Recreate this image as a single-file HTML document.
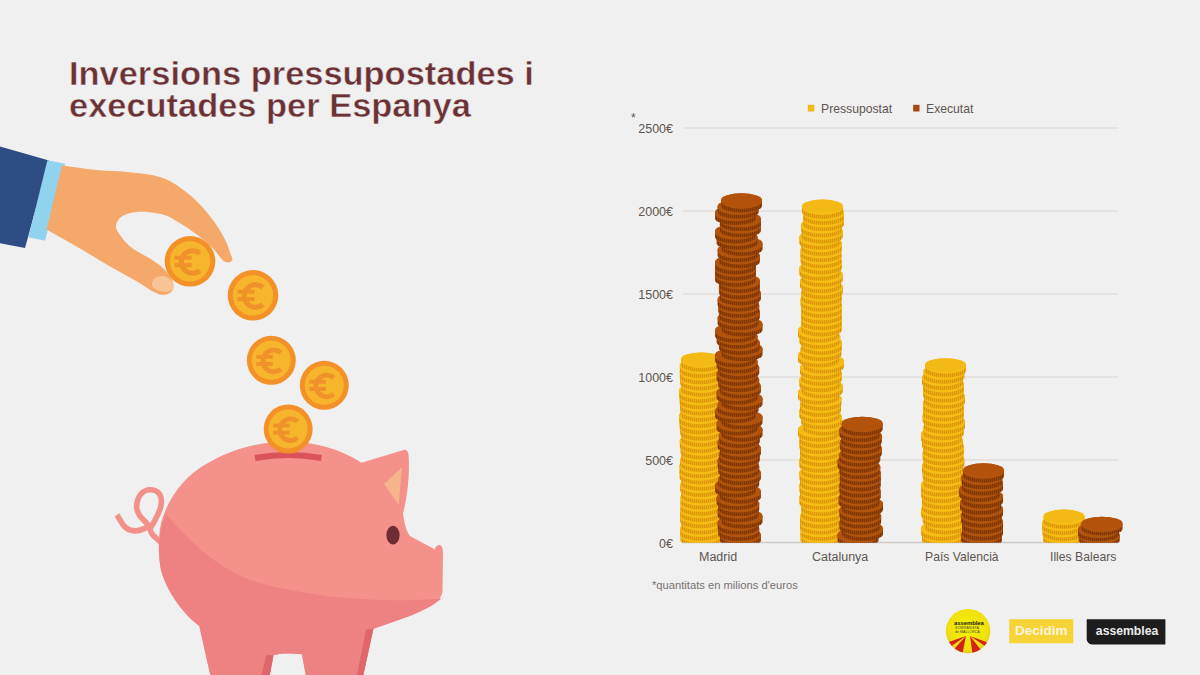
<!DOCTYPE html>
<html><head><meta charset="utf-8">
<style>
html,body{margin:0;padding:0;}
body{width:1200px;height:675px;overflow:hidden;background:#f0f0f0;position:relative;font-family:"Liberation Sans",sans-serif;}
.t{position:absolute;white-space:nowrap;}
.title{left:69px;transform:scaleX(1.043);transform-origin:0 0;-webkit-text-stroke:0.45px #f0f0f0;color:#6b3135;font-weight:bold;font-size:33px;line-height:30.5px;}
.lab{color:#5e5651;font-size:12px;line-height:14px;}
svg{position:absolute;left:0;top:0;}
</style></head><body>
<svg width="1200" height="675" viewBox="0 0 1200 675">
<defs>
<clipPath id="stk"><rect x="600" y="0" width="600" height="542.8"/></clipPath>
<pattern id="ry" width="2" height="10" patternUnits="userSpaceOnUse">
<rect width="2" height="10" fill="#edad0f"/><rect width="1" height="10" fill="#d99409"/>
</pattern>
<pattern id="rb" width="2" height="10" patternUnits="userSpaceOnUse">
<rect width="2" height="10" fill="#9a4508"/><rect width="1" height="10" fill="#7e3505"/>
</pattern>
</defs>
<!-- grid -->
<g stroke="#d9d6d3" stroke-width="1">
<line x1="683" y1="128" x2="1118" y2="128"/>
<line x1="683" y1="211" x2="1118" y2="211"/>
<line x1="683" y1="294" x2="1118" y2="294"/>
<line x1="683" y1="377" x2="1118" y2="377"/>
<line x1="683" y1="460" x2="1118" y2="460"/>
</g>
<line x1="683" y1="542.5" x2="1118" y2="542.5" stroke="#cdcac7" stroke-width="1.6"/>
<g clip-path="url(#stk)">
<path d="M680.50,534.24 L680.50,540.50 A20.50,6.50 0 0 0 721.50,540.50 L721.50,534.24 Z" fill="url(#ry)"/>
<ellipse cx="701.00" cy="535.54" rx="20.50" ry="7.80" fill="#f6bd15"/>
<ellipse cx="701.00" cy="534.24" rx="20.50" ry="6.50" fill="#f3b914"/>
<path d="M680.20,527.98 L680.20,534.24 A20.50,6.50 0 0 0 721.20,534.24 L721.20,527.98 Z" fill="url(#ry)"/>
<ellipse cx="700.70" cy="529.28" rx="20.50" ry="7.80" fill="#f6bd15"/>
<ellipse cx="700.70" cy="527.98" rx="20.50" ry="6.50" fill="#f3b914"/>
<path d="M681.00,521.71 L681.00,527.98 A20.50,6.50 0 0 0 722.00,527.98 L722.00,521.71 Z" fill="url(#ry)"/>
<ellipse cx="701.50" cy="523.01" rx="20.50" ry="7.80" fill="#f6bd15"/>
<ellipse cx="701.50" cy="521.71" rx="20.50" ry="6.50" fill="#f3b914"/>
<path d="M680.20,515.45 L680.20,521.71 A20.50,6.50 0 0 0 721.20,521.71 L721.20,515.45 Z" fill="url(#ry)"/>
<ellipse cx="700.70" cy="516.75" rx="20.50" ry="7.80" fill="#f6bd15"/>
<ellipse cx="700.70" cy="515.45" rx="20.50" ry="6.50" fill="#f3b914"/>
<path d="M680.20,509.19 L680.20,515.45 A20.50,6.50 0 0 0 721.20,515.45 L721.20,509.19 Z" fill="url(#ry)"/>
<ellipse cx="700.70" cy="510.49" rx="20.50" ry="7.80" fill="#f6bd15"/>
<ellipse cx="700.70" cy="509.19" rx="20.50" ry="6.50" fill="#f3b914"/>
<path d="M680.50,502.93 L680.50,509.19 A20.50,6.50 0 0 0 721.50,509.19 L721.50,502.93 Z" fill="url(#ry)"/>
<ellipse cx="701.00" cy="504.23" rx="20.50" ry="7.80" fill="#f6bd15"/>
<ellipse cx="701.00" cy="502.93" rx="20.50" ry="6.50" fill="#f3b914"/>
<path d="M680.50,496.67 L680.50,502.93 A20.50,6.50 0 0 0 721.50,502.93 L721.50,496.67 Z" fill="url(#ry)"/>
<ellipse cx="701.00" cy="497.97" rx="20.50" ry="7.80" fill="#f6bd15"/>
<ellipse cx="701.00" cy="496.67" rx="20.50" ry="6.50" fill="#f3b914"/>
<path d="M681.00,490.40 L681.00,496.67 A20.50,6.50 0 0 0 722.00,496.67 L722.00,490.40 Z" fill="url(#ry)"/>
<ellipse cx="701.50" cy="491.70" rx="20.50" ry="7.80" fill="#f6bd15"/>
<ellipse cx="701.50" cy="490.40" rx="20.50" ry="6.50" fill="#f3b914"/>
<path d="M680.20,484.14 L680.20,490.40 A20.50,6.50 0 0 0 721.20,490.40 L721.20,484.14 Z" fill="url(#ry)"/>
<ellipse cx="700.70" cy="485.44" rx="20.50" ry="7.80" fill="#f6bd15"/>
<ellipse cx="700.70" cy="484.14" rx="20.50" ry="6.50" fill="#f3b914"/>
<path d="M681.00,477.88 L681.00,484.14 A20.50,6.50 0 0 0 722.00,484.14 L722.00,477.88 Z" fill="url(#ry)"/>
<ellipse cx="701.50" cy="479.18" rx="20.50" ry="7.80" fill="#f6bd15"/>
<ellipse cx="701.50" cy="477.88" rx="20.50" ry="6.50" fill="#f3b914"/>
<path d="M679.50,471.62 L679.50,477.88 A20.50,6.50 0 0 0 720.50,477.88 L720.50,471.62 Z" fill="url(#ry)"/>
<ellipse cx="700.00" cy="472.92" rx="20.50" ry="7.80" fill="#f6bd15"/>
<ellipse cx="700.00" cy="471.62" rx="20.50" ry="6.50" fill="#f3b914"/>
<path d="M679.50,465.36 L679.50,471.62 A20.50,6.50 0 0 0 720.50,471.62 L720.50,465.36 Z" fill="url(#ry)"/>
<ellipse cx="700.00" cy="466.66" rx="20.50" ry="7.80" fill="#f6bd15"/>
<ellipse cx="700.00" cy="465.36" rx="20.50" ry="6.50" fill="#f3b914"/>
<path d="M680.20,459.09 L680.20,465.36 A20.50,6.50 0 0 0 721.20,465.36 L721.20,459.09 Z" fill="url(#ry)"/>
<ellipse cx="700.70" cy="460.39" rx="20.50" ry="7.80" fill="#f6bd15"/>
<ellipse cx="700.70" cy="459.09" rx="20.50" ry="6.50" fill="#f3b914"/>
<path d="M681.00,452.83 L681.00,459.09 A20.50,6.50 0 0 0 722.00,459.09 L722.00,452.83 Z" fill="url(#ry)"/>
<ellipse cx="701.50" cy="454.13" rx="20.50" ry="7.80" fill="#f6bd15"/>
<ellipse cx="701.50" cy="452.83" rx="20.50" ry="6.50" fill="#f3b914"/>
<path d="M680.50,446.57 L680.50,452.83 A20.50,6.50 0 0 0 721.50,452.83 L721.50,446.57 Z" fill="url(#ry)"/>
<ellipse cx="701.00" cy="447.87" rx="20.50" ry="7.80" fill="#f6bd15"/>
<ellipse cx="701.00" cy="446.57" rx="20.50" ry="6.50" fill="#f3b914"/>
<path d="M679.80,440.31 L679.80,446.57 A20.50,6.50 0 0 0 720.80,446.57 L720.80,440.31 Z" fill="url(#ry)"/>
<ellipse cx="700.30" cy="441.61" rx="20.50" ry="7.80" fill="#f6bd15"/>
<ellipse cx="700.30" cy="440.31" rx="20.50" ry="6.50" fill="#f3b914"/>
<path d="M681.00,434.04 L681.00,440.31 A20.50,6.50 0 0 0 722.00,440.31 L722.00,434.04 Z" fill="url(#ry)"/>
<ellipse cx="701.50" cy="435.34" rx="20.50" ry="7.80" fill="#f6bd15"/>
<ellipse cx="701.50" cy="434.04" rx="20.50" ry="6.50" fill="#f3b914"/>
<path d="M680.20,427.78 L680.20,434.04 A20.50,6.50 0 0 0 721.20,434.04 L721.20,427.78 Z" fill="url(#ry)"/>
<ellipse cx="700.70" cy="429.08" rx="20.50" ry="7.80" fill="#f6bd15"/>
<ellipse cx="700.70" cy="427.78" rx="20.50" ry="6.50" fill="#f3b914"/>
<path d="M679.50,421.52 L679.50,427.78 A20.50,6.50 0 0 0 720.50,427.78 L720.50,421.52 Z" fill="url(#ry)"/>
<ellipse cx="700.00" cy="422.82" rx="20.50" ry="7.80" fill="#f6bd15"/>
<ellipse cx="700.00" cy="421.52" rx="20.50" ry="6.50" fill="#f3b914"/>
<path d="M679.00,415.26 L679.00,421.52 A20.50,6.50 0 0 0 720.00,421.52 L720.00,415.26 Z" fill="url(#ry)"/>
<ellipse cx="699.50" cy="416.56" rx="20.50" ry="7.80" fill="#f6bd15"/>
<ellipse cx="699.50" cy="415.26" rx="20.50" ry="6.50" fill="#f3b914"/>
<path d="M680.50,409.00 L680.50,415.26 A20.50,6.50 0 0 0 721.50,415.26 L721.50,409.00 Z" fill="url(#ry)"/>
<ellipse cx="701.00" cy="410.30" rx="20.50" ry="7.80" fill="#f6bd15"/>
<ellipse cx="701.00" cy="409.00" rx="20.50" ry="6.50" fill="#f3b914"/>
<path d="M680.00,402.73 L680.00,409.00 A20.50,6.50 0 0 0 721.00,409.00 L721.00,402.73 Z" fill="url(#ry)"/>
<ellipse cx="700.50" cy="404.03" rx="20.50" ry="7.80" fill="#f6bd15"/>
<ellipse cx="700.50" cy="402.73" rx="20.50" ry="6.50" fill="#f3b914"/>
<path d="M679.50,396.47 L679.50,402.73 A20.50,6.50 0 0 0 720.50,402.73 L720.50,396.47 Z" fill="url(#ry)"/>
<ellipse cx="700.00" cy="397.77" rx="20.50" ry="7.80" fill="#f6bd15"/>
<ellipse cx="700.00" cy="396.47" rx="20.50" ry="6.50" fill="#f3b914"/>
<path d="M679.00,390.21 L679.00,396.47 A20.50,6.50 0 0 0 720.00,396.47 L720.00,390.21 Z" fill="url(#ry)"/>
<ellipse cx="699.50" cy="391.51" rx="20.50" ry="7.80" fill="#f6bd15"/>
<ellipse cx="699.50" cy="390.21" rx="20.50" ry="6.50" fill="#f3b914"/>
<path d="M681.00,383.95 L681.00,390.21 A20.50,6.50 0 0 0 722.00,390.21 L722.00,383.95 Z" fill="url(#ry)"/>
<ellipse cx="701.50" cy="385.25" rx="20.50" ry="7.80" fill="#f6bd15"/>
<ellipse cx="701.50" cy="383.95" rx="20.50" ry="6.50" fill="#f3b914"/>
<path d="M680.20,377.69 L680.20,383.95 A20.50,6.50 0 0 0 721.20,383.95 L721.20,377.69 Z" fill="url(#ry)"/>
<ellipse cx="700.70" cy="378.99" rx="20.50" ry="7.80" fill="#f6bd15"/>
<ellipse cx="700.70" cy="377.69" rx="20.50" ry="6.50" fill="#f3b914"/>
<path d="M679.80,371.42 L679.80,377.69 A20.50,6.50 0 0 0 720.80,377.69 L720.80,371.42 Z" fill="url(#ry)"/>
<ellipse cx="700.30" cy="372.72" rx="20.50" ry="7.80" fill="#f6bd15"/>
<ellipse cx="700.30" cy="371.42" rx="20.50" ry="6.50" fill="#f3b914"/>
<path d="M679.80,365.16 L679.80,371.42 A20.50,6.50 0 0 0 720.80,371.42 L720.80,365.16 Z" fill="url(#ry)"/>
<ellipse cx="700.30" cy="366.46" rx="20.50" ry="7.80" fill="#f6bd15"/>
<ellipse cx="700.30" cy="365.16" rx="20.50" ry="6.50" fill="#f3b914"/>
<path d="M681.00,358.90 L681.00,365.16 A20.50,6.50 0 0 0 722.00,365.16 L722.00,358.90 Z" fill="url(#ry)"/>
<ellipse cx="701.50" cy="360.20" rx="20.50" ry="7.80" fill="#f6bd15"/>
<ellipse cx="701.50" cy="358.90" rx="20.50" ry="6.50" fill="#f3b914"/>
<path d="M719.88,534.31 L719.88,540.50 A20.50,6.50 0 0 0 760.88,540.50 L760.88,534.31 Z" fill="url(#rb)"/>
<ellipse cx="740.38" cy="535.61" rx="20.50" ry="7.80" fill="#b2550c"/>
<ellipse cx="740.38" cy="534.31" rx="20.50" ry="6.50" fill="#b3530b"/>
<path d="M718.25,528.11 L718.25,534.31 A20.50,6.50 0 0 0 759.25,534.31 L759.25,528.11 Z" fill="url(#rb)"/>
<ellipse cx="738.75" cy="529.41" rx="20.50" ry="7.80" fill="#b2550c"/>
<ellipse cx="738.75" cy="528.11" rx="20.50" ry="6.50" fill="#b3530b"/>
<path d="M717.60,521.92 L717.60,528.11 A20.50,6.50 0 0 0 758.60,528.11 L758.60,521.92 Z" fill="url(#rb)"/>
<ellipse cx="738.10" cy="523.22" rx="20.50" ry="7.80" fill="#b2550c"/>
<ellipse cx="738.10" cy="521.92" rx="20.50" ry="6.50" fill="#b3530b"/>
<path d="M721.50,515.72 L721.50,521.92 A20.50,6.50 0 0 0 762.50,521.92 L762.50,515.72 Z" fill="url(#rb)"/>
<ellipse cx="742.00" cy="517.02" rx="20.50" ry="7.80" fill="#b2550c"/>
<ellipse cx="742.00" cy="515.72" rx="20.50" ry="6.50" fill="#b3530b"/>
<path d="M717.60,509.53 L717.60,515.72 A20.50,6.50 0 0 0 758.60,515.72 L758.60,509.53 Z" fill="url(#rb)"/>
<ellipse cx="738.10" cy="510.83" rx="20.50" ry="7.80" fill="#b2550c"/>
<ellipse cx="738.10" cy="509.53" rx="20.50" ry="6.50" fill="#b3530b"/>
<path d="M718.25,503.33 L718.25,509.53 A20.50,6.50 0 0 0 759.25,509.53 L759.25,503.33 Z" fill="url(#rb)"/>
<ellipse cx="738.75" cy="504.63" rx="20.50" ry="7.80" fill="#b2550c"/>
<ellipse cx="738.75" cy="503.33" rx="20.50" ry="6.50" fill="#b3530b"/>
<path d="M716.62,497.14 L716.62,503.33 A20.50,6.50 0 0 0 757.62,503.33 L757.62,497.14 Z" fill="url(#rb)"/>
<ellipse cx="737.12" cy="498.44" rx="20.50" ry="7.80" fill="#b2550c"/>
<ellipse cx="737.12" cy="497.14" rx="20.50" ry="6.50" fill="#b3530b"/>
<path d="M719.88,490.94 L719.88,497.14 A20.50,6.50 0 0 0 760.88,497.14 L760.88,490.94 Z" fill="url(#rb)"/>
<ellipse cx="740.38" cy="492.24" rx="20.50" ry="7.80" fill="#b2550c"/>
<ellipse cx="740.38" cy="490.94" rx="20.50" ry="6.50" fill="#b3530b"/>
<path d="M715.00,484.75 L715.00,490.94 A20.50,6.50 0 0 0 756.00,490.94 L756.00,484.75 Z" fill="url(#rb)"/>
<ellipse cx="735.50" cy="486.05" rx="20.50" ry="7.80" fill="#b2550c"/>
<ellipse cx="735.50" cy="484.75" rx="20.50" ry="6.50" fill="#b3530b"/>
<path d="M718.25,478.55 L718.25,484.75 A20.50,6.50 0 0 0 759.25,484.75 L759.25,478.55 Z" fill="url(#rb)"/>
<ellipse cx="738.75" cy="479.85" rx="20.50" ry="7.80" fill="#b2550c"/>
<ellipse cx="738.75" cy="478.55" rx="20.50" ry="6.50" fill="#b3530b"/>
<path d="M719.88,472.36 L719.88,478.55 A20.50,6.50 0 0 0 760.88,478.55 L760.88,472.36 Z" fill="url(#rb)"/>
<ellipse cx="740.38" cy="473.66" rx="20.50" ry="7.80" fill="#b2550c"/>
<ellipse cx="740.38" cy="472.36" rx="20.50" ry="6.50" fill="#b3530b"/>
<path d="M718.25,466.17 L718.25,472.36 A20.50,6.50 0 0 0 759.25,472.36 L759.25,466.17 Z" fill="url(#rb)"/>
<ellipse cx="738.75" cy="467.47" rx="20.50" ry="7.80" fill="#b2550c"/>
<ellipse cx="738.75" cy="466.17" rx="20.50" ry="6.50" fill="#b3530b"/>
<path d="M717.60,459.97 L717.60,466.17 A20.50,6.50 0 0 0 758.60,466.17 L758.60,459.97 Z" fill="url(#rb)"/>
<ellipse cx="738.10" cy="461.27" rx="20.50" ry="7.80" fill="#b2550c"/>
<ellipse cx="738.10" cy="459.97" rx="20.50" ry="6.50" fill="#b3530b"/>
<path d="M718.90,453.78 L718.90,459.97 A20.50,6.50 0 0 0 759.90,459.97 L759.90,453.78 Z" fill="url(#rb)"/>
<ellipse cx="739.40" cy="455.08" rx="20.50" ry="7.80" fill="#b2550c"/>
<ellipse cx="739.40" cy="453.78" rx="20.50" ry="6.50" fill="#b3530b"/>
<path d="M719.88,447.58 L719.88,453.78 A20.50,6.50 0 0 0 760.88,453.78 L760.88,447.58 Z" fill="url(#rb)"/>
<ellipse cx="740.38" cy="448.88" rx="20.50" ry="7.80" fill="#b2550c"/>
<ellipse cx="740.38" cy="447.58" rx="20.50" ry="6.50" fill="#b3530b"/>
<path d="M717.60,441.39 L717.60,447.58 A20.50,6.50 0 0 0 758.60,447.58 L758.60,441.39 Z" fill="url(#rb)"/>
<ellipse cx="738.10" cy="442.69" rx="20.50" ry="7.80" fill="#b2550c"/>
<ellipse cx="738.10" cy="441.39" rx="20.50" ry="6.50" fill="#b3530b"/>
<path d="M718.90,435.19 L718.90,441.39 A20.50,6.50 0 0 0 759.90,441.39 L759.90,435.19 Z" fill="url(#rb)"/>
<ellipse cx="739.40" cy="436.49" rx="20.50" ry="7.80" fill="#b2550c"/>
<ellipse cx="739.40" cy="435.19" rx="20.50" ry="6.50" fill="#b3530b"/>
<path d="M721.50,429.00 L721.50,435.19 A20.50,6.50 0 0 0 762.50,435.19 L762.50,429.00 Z" fill="url(#rb)"/>
<ellipse cx="742.00" cy="430.30" rx="20.50" ry="7.80" fill="#b2550c"/>
<ellipse cx="742.00" cy="429.00" rx="20.50" ry="6.50" fill="#b3530b"/>
<path d="M716.62,422.80 L716.62,429.00 A20.50,6.50 0 0 0 757.62,429.00 L757.62,422.80 Z" fill="url(#rb)"/>
<ellipse cx="737.12" cy="424.10" rx="20.50" ry="7.80" fill="#b2550c"/>
<ellipse cx="737.12" cy="422.80" rx="20.50" ry="6.50" fill="#b3530b"/>
<path d="M721.50,416.61 L721.50,422.80 A20.50,6.50 0 0 0 762.50,422.80 L762.50,416.61 Z" fill="url(#rb)"/>
<ellipse cx="742.00" cy="417.91" rx="20.50" ry="7.80" fill="#b2550c"/>
<ellipse cx="742.00" cy="416.61" rx="20.50" ry="6.50" fill="#b3530b"/>
<path d="M715.00,410.41 L715.00,416.61 A20.50,6.50 0 0 0 756.00,416.61 L756.00,410.41 Z" fill="url(#rb)"/>
<ellipse cx="735.50" cy="411.71" rx="20.50" ry="7.80" fill="#b2550c"/>
<ellipse cx="735.50" cy="410.41" rx="20.50" ry="6.50" fill="#b3530b"/>
<path d="M717.60,404.22 L717.60,410.41 A20.50,6.50 0 0 0 758.60,410.41 L758.60,404.22 Z" fill="url(#rb)"/>
<ellipse cx="738.10" cy="405.52" rx="20.50" ry="7.80" fill="#b2550c"/>
<ellipse cx="738.10" cy="404.22" rx="20.50" ry="6.50" fill="#b3530b"/>
<path d="M721.50,398.03 L721.50,404.22 A20.50,6.50 0 0 0 762.50,404.22 L762.50,398.03 Z" fill="url(#rb)"/>
<ellipse cx="742.00" cy="399.33" rx="20.50" ry="7.80" fill="#b2550c"/>
<ellipse cx="742.00" cy="398.03" rx="20.50" ry="6.50" fill="#b3530b"/>
<path d="M716.62,391.83 L716.62,398.03 A20.50,6.50 0 0 0 757.62,398.03 L757.62,391.83 Z" fill="url(#rb)"/>
<ellipse cx="737.12" cy="393.13" rx="20.50" ry="7.80" fill="#b2550c"/>
<ellipse cx="737.12" cy="391.83" rx="20.50" ry="6.50" fill="#b3530b"/>
<path d="M719.88,385.64 L719.88,391.83 A20.50,6.50 0 0 0 760.88,391.83 L760.88,385.64 Z" fill="url(#rb)"/>
<ellipse cx="740.38" cy="386.94" rx="20.50" ry="7.80" fill="#b2550c"/>
<ellipse cx="740.38" cy="385.64" rx="20.50" ry="6.50" fill="#b3530b"/>
<path d="M718.25,379.44 L718.25,385.64 A20.50,6.50 0 0 0 759.25,385.64 L759.25,379.44 Z" fill="url(#rb)"/>
<ellipse cx="738.75" cy="380.74" rx="20.50" ry="7.80" fill="#b2550c"/>
<ellipse cx="738.75" cy="379.44" rx="20.50" ry="6.50" fill="#b3530b"/>
<path d="M716.62,373.25 L716.62,379.44 A20.50,6.50 0 0 0 757.62,379.44 L757.62,373.25 Z" fill="url(#rb)"/>
<ellipse cx="737.12" cy="374.55" rx="20.50" ry="7.80" fill="#b2550c"/>
<ellipse cx="737.12" cy="373.25" rx="20.50" ry="6.50" fill="#b3530b"/>
<path d="M718.25,367.05 L718.25,373.25 A20.50,6.50 0 0 0 759.25,373.25 L759.25,367.05 Z" fill="url(#rb)"/>
<ellipse cx="738.75" cy="368.35" rx="20.50" ry="7.80" fill="#b2550c"/>
<ellipse cx="738.75" cy="367.05" rx="20.50" ry="6.50" fill="#b3530b"/>
<path d="M716.62,360.86 L716.62,367.05 A20.50,6.50 0 0 0 757.62,367.05 L757.62,360.86 Z" fill="url(#rb)"/>
<ellipse cx="737.12" cy="362.16" rx="20.50" ry="7.80" fill="#b2550c"/>
<ellipse cx="737.12" cy="360.86" rx="20.50" ry="6.50" fill="#b3530b"/>
<path d="M715.00,354.66 L715.00,360.86 A20.50,6.50 0 0 0 756.00,360.86 L756.00,354.66 Z" fill="url(#rb)"/>
<ellipse cx="735.50" cy="355.96" rx="20.50" ry="7.80" fill="#b2550c"/>
<ellipse cx="735.50" cy="354.66" rx="20.50" ry="6.50" fill="#b3530b"/>
<path d="M721.50,348.47 L721.50,354.66 A20.50,6.50 0 0 0 762.50,354.66 L762.50,348.47 Z" fill="url(#rb)"/>
<ellipse cx="742.00" cy="349.77" rx="20.50" ry="7.80" fill="#b2550c"/>
<ellipse cx="742.00" cy="348.47" rx="20.50" ry="6.50" fill="#b3530b"/>
<path d="M718.90,342.27 L718.90,348.47 A20.50,6.50 0 0 0 759.90,348.47 L759.90,342.27 Z" fill="url(#rb)"/>
<ellipse cx="739.40" cy="343.57" rx="20.50" ry="7.80" fill="#b2550c"/>
<ellipse cx="739.40" cy="342.27" rx="20.50" ry="6.50" fill="#b3530b"/>
<path d="M716.62,336.08 L716.62,342.27 A20.50,6.50 0 0 0 757.62,342.27 L757.62,336.08 Z" fill="url(#rb)"/>
<ellipse cx="737.12" cy="337.38" rx="20.50" ry="7.80" fill="#b2550c"/>
<ellipse cx="737.12" cy="336.08" rx="20.50" ry="6.50" fill="#b3530b"/>
<path d="M715.00,329.89 L715.00,336.08 A20.50,6.50 0 0 0 756.00,336.08 L756.00,329.89 Z" fill="url(#rb)"/>
<ellipse cx="735.50" cy="331.19" rx="20.50" ry="7.80" fill="#b2550c"/>
<ellipse cx="735.50" cy="329.89" rx="20.50" ry="6.50" fill="#b3530b"/>
<path d="M721.50,323.69 L721.50,329.89 A20.50,6.50 0 0 0 762.50,329.89 L762.50,323.69 Z" fill="url(#rb)"/>
<ellipse cx="742.00" cy="324.99" rx="20.50" ry="7.80" fill="#b2550c"/>
<ellipse cx="742.00" cy="323.69" rx="20.50" ry="6.50" fill="#b3530b"/>
<path d="M717.60,317.50 L717.60,323.69 A20.50,6.50 0 0 0 758.60,323.69 L758.60,317.50 Z" fill="url(#rb)"/>
<ellipse cx="738.10" cy="318.80" rx="20.50" ry="7.80" fill="#b2550c"/>
<ellipse cx="738.10" cy="317.50" rx="20.50" ry="6.50" fill="#b3530b"/>
<path d="M718.90,311.30 L718.90,317.50 A20.50,6.50 0 0 0 759.90,317.50 L759.90,311.30 Z" fill="url(#rb)"/>
<ellipse cx="739.40" cy="312.60" rx="20.50" ry="7.80" fill="#b2550c"/>
<ellipse cx="739.40" cy="311.30" rx="20.50" ry="6.50" fill="#b3530b"/>
<path d="M718.25,305.11 L718.25,311.30 A20.50,6.50 0 0 0 759.25,311.30 L759.25,305.11 Z" fill="url(#rb)"/>
<ellipse cx="738.75" cy="306.41" rx="20.50" ry="7.80" fill="#b2550c"/>
<ellipse cx="738.75" cy="305.11" rx="20.50" ry="6.50" fill="#b3530b"/>
<path d="M717.60,298.91 L717.60,305.11 A20.50,6.50 0 0 0 758.60,305.11 L758.60,298.91 Z" fill="url(#rb)"/>
<ellipse cx="738.10" cy="300.21" rx="20.50" ry="7.80" fill="#b2550c"/>
<ellipse cx="738.10" cy="298.91" rx="20.50" ry="6.50" fill="#b3530b"/>
<path d="M719.88,292.72 L719.88,298.91 A20.50,6.50 0 0 0 760.88,298.91 L760.88,292.72 Z" fill="url(#rb)"/>
<ellipse cx="740.38" cy="294.02" rx="20.50" ry="7.80" fill="#b2550c"/>
<ellipse cx="740.38" cy="292.72" rx="20.50" ry="6.50" fill="#b3530b"/>
<path d="M718.90,286.52 L718.90,292.72 A20.50,6.50 0 0 0 759.90,292.72 L759.90,286.52 Z" fill="url(#rb)"/>
<ellipse cx="739.40" cy="287.82" rx="20.50" ry="7.80" fill="#b2550c"/>
<ellipse cx="739.40" cy="286.52" rx="20.50" ry="6.50" fill="#b3530b"/>
<path d="M718.90,280.33 L718.90,286.52 A20.50,6.50 0 0 0 759.90,286.52 L759.90,280.33 Z" fill="url(#rb)"/>
<ellipse cx="739.40" cy="281.63" rx="20.50" ry="7.80" fill="#b2550c"/>
<ellipse cx="739.40" cy="280.33" rx="20.50" ry="6.50" fill="#b3530b"/>
<path d="M715.00,274.13 L715.00,280.33 A20.50,6.50 0 0 0 756.00,280.33 L756.00,274.13 Z" fill="url(#rb)"/>
<ellipse cx="735.50" cy="275.43" rx="20.50" ry="7.80" fill="#b2550c"/>
<ellipse cx="735.50" cy="274.13" rx="20.50" ry="6.50" fill="#b3530b"/>
<path d="M715.00,267.94 L715.00,274.13 A20.50,6.50 0 0 0 756.00,274.13 L756.00,267.94 Z" fill="url(#rb)"/>
<ellipse cx="735.50" cy="269.24" rx="20.50" ry="7.80" fill="#b2550c"/>
<ellipse cx="735.50" cy="267.94" rx="20.50" ry="6.50" fill="#b3530b"/>
<path d="M715.00,261.75 L715.00,267.94 A20.50,6.50 0 0 0 756.00,267.94 L756.00,261.75 Z" fill="url(#rb)"/>
<ellipse cx="735.50" cy="263.05" rx="20.50" ry="7.80" fill="#b2550c"/>
<ellipse cx="735.50" cy="261.75" rx="20.50" ry="6.50" fill="#b3530b"/>
<path d="M718.90,255.55 L718.90,261.75 A20.50,6.50 0 0 0 759.90,261.75 L759.90,255.55 Z" fill="url(#rb)"/>
<ellipse cx="739.40" cy="256.85" rx="20.50" ry="7.80" fill="#b2550c"/>
<ellipse cx="739.40" cy="255.55" rx="20.50" ry="6.50" fill="#b3530b"/>
<path d="M717.60,249.36 L717.60,255.55 A20.50,6.50 0 0 0 758.60,255.55 L758.60,249.36 Z" fill="url(#rb)"/>
<ellipse cx="738.10" cy="250.66" rx="20.50" ry="7.80" fill="#b2550c"/>
<ellipse cx="738.10" cy="249.36" rx="20.50" ry="6.50" fill="#b3530b"/>
<path d="M721.50,243.16 L721.50,249.36 A20.50,6.50 0 0 0 762.50,249.36 L762.50,243.16 Z" fill="url(#rb)"/>
<ellipse cx="742.00" cy="244.46" rx="20.50" ry="7.80" fill="#b2550c"/>
<ellipse cx="742.00" cy="243.16" rx="20.50" ry="6.50" fill="#b3530b"/>
<path d="M716.62,236.97 L716.62,243.16 A20.50,6.50 0 0 0 757.62,243.16 L757.62,236.97 Z" fill="url(#rb)"/>
<ellipse cx="737.12" cy="238.27" rx="20.50" ry="7.80" fill="#b2550c"/>
<ellipse cx="737.12" cy="236.97" rx="20.50" ry="6.50" fill="#b3530b"/>
<path d="M715.00,230.77 L715.00,236.97 A20.50,6.50 0 0 0 756.00,236.97 L756.00,230.77 Z" fill="url(#rb)"/>
<ellipse cx="735.50" cy="232.07" rx="20.50" ry="7.80" fill="#b2550c"/>
<ellipse cx="735.50" cy="230.77" rx="20.50" ry="6.50" fill="#b3530b"/>
<path d="M719.88,224.58 L719.88,230.77 A20.50,6.50 0 0 0 760.88,230.77 L760.88,224.58 Z" fill="url(#rb)"/>
<ellipse cx="740.38" cy="225.88" rx="20.50" ry="7.80" fill="#b2550c"/>
<ellipse cx="740.38" cy="224.58" rx="20.50" ry="6.50" fill="#b3530b"/>
<path d="M719.88,218.38 L719.88,224.58 A20.50,6.50 0 0 0 760.88,224.58 L760.88,218.38 Z" fill="url(#rb)"/>
<ellipse cx="740.38" cy="219.68" rx="20.50" ry="7.80" fill="#b2550c"/>
<ellipse cx="740.38" cy="218.38" rx="20.50" ry="6.50" fill="#b3530b"/>
<path d="M715.00,212.19 L715.00,218.38 A20.50,6.50 0 0 0 756.00,218.38 L756.00,212.19 Z" fill="url(#rb)"/>
<ellipse cx="735.50" cy="213.49" rx="20.50" ry="7.80" fill="#b2550c"/>
<ellipse cx="735.50" cy="212.19" rx="20.50" ry="6.50" fill="#b3530b"/>
<path d="M717.60,205.99 L717.60,212.19 A20.50,6.50 0 0 0 758.60,212.19 L758.60,205.99 Z" fill="url(#rb)"/>
<ellipse cx="738.10" cy="207.29" rx="20.50" ry="7.80" fill="#b2550c"/>
<ellipse cx="738.10" cy="205.99" rx="20.50" ry="6.50" fill="#b3530b"/>
<path d="M721.00,199.80 L721.00,205.99 A20.50,6.50 0 0 0 762.00,205.99 L762.00,199.80 Z" fill="url(#rb)"/>
<ellipse cx="741.50" cy="201.10" rx="20.50" ry="7.80" fill="#b2550c"/>
<ellipse cx="741.50" cy="199.80" rx="20.50" ry="6.50" fill="#b3530b"/>
<path d="M800.50,534.31 L800.50,540.50 A20.50,6.50 0 0 0 841.50,540.50 L841.50,534.31 Z" fill="url(#ry)"/>
<ellipse cx="821.00" cy="535.61" rx="20.50" ry="7.80" fill="#f6bd15"/>
<ellipse cx="821.00" cy="534.31" rx="20.50" ry="6.50" fill="#f3b914"/>
<path d="M800.50,528.11 L800.50,534.31 A20.50,6.50 0 0 0 841.50,534.31 L841.50,528.11 Z" fill="url(#ry)"/>
<ellipse cx="821.00" cy="529.41" rx="20.50" ry="7.80" fill="#f6bd15"/>
<ellipse cx="821.00" cy="528.11" rx="20.50" ry="6.50" fill="#f3b914"/>
<path d="M800.00,521.92 L800.00,528.11 A20.50,6.50 0 0 0 841.00,528.11 L841.00,521.92 Z" fill="url(#ry)"/>
<ellipse cx="820.50" cy="523.22" rx="20.50" ry="7.80" fill="#f6bd15"/>
<ellipse cx="820.50" cy="521.92" rx="20.50" ry="6.50" fill="#f3b914"/>
<path d="M800.00,515.72 L800.00,521.92 A20.50,6.50 0 0 0 841.00,521.92 L841.00,515.72 Z" fill="url(#ry)"/>
<ellipse cx="820.50" cy="517.02" rx="20.50" ry="7.80" fill="#f6bd15"/>
<ellipse cx="820.50" cy="515.72" rx="20.50" ry="6.50" fill="#f3b914"/>
<path d="M801.00,509.53 L801.00,515.72 A20.50,6.50 0 0 0 842.00,515.72 L842.00,509.53 Z" fill="url(#ry)"/>
<ellipse cx="821.50" cy="510.83" rx="20.50" ry="7.80" fill="#f6bd15"/>
<ellipse cx="821.50" cy="509.53" rx="20.50" ry="6.50" fill="#f3b914"/>
<path d="M801.00,503.33 L801.00,509.53 A20.50,6.50 0 0 0 842.00,509.53 L842.00,503.33 Z" fill="url(#ry)"/>
<ellipse cx="821.50" cy="504.63" rx="20.50" ry="7.80" fill="#f6bd15"/>
<ellipse cx="821.50" cy="503.33" rx="20.50" ry="6.50" fill="#f3b914"/>
<path d="M799.25,497.14 L799.25,503.33 A20.50,6.50 0 0 0 840.25,503.33 L840.25,497.14 Z" fill="url(#ry)"/>
<ellipse cx="819.75" cy="498.44" rx="20.50" ry="7.80" fill="#f6bd15"/>
<ellipse cx="819.75" cy="497.14" rx="20.50" ry="6.50" fill="#f3b914"/>
<path d="M800.00,490.94 L800.00,497.14 A20.50,6.50 0 0 0 841.00,497.14 L841.00,490.94 Z" fill="url(#ry)"/>
<ellipse cx="820.50" cy="492.24" rx="20.50" ry="7.80" fill="#f6bd15"/>
<ellipse cx="820.50" cy="490.94" rx="20.50" ry="6.50" fill="#f3b914"/>
<path d="M799.25,484.75 L799.25,490.94 A20.50,6.50 0 0 0 840.25,490.94 L840.25,484.75 Z" fill="url(#ry)"/>
<ellipse cx="819.75" cy="486.05" rx="20.50" ry="7.80" fill="#f6bd15"/>
<ellipse cx="819.75" cy="484.75" rx="20.50" ry="6.50" fill="#f3b914"/>
<path d="M800.00,478.56 L800.00,484.75 A20.50,6.50 0 0 0 841.00,484.75 L841.00,478.56 Z" fill="url(#ry)"/>
<ellipse cx="820.50" cy="479.86" rx="20.50" ry="7.80" fill="#f6bd15"/>
<ellipse cx="820.50" cy="478.56" rx="20.50" ry="6.50" fill="#f3b914"/>
<path d="M799.25,472.36 L799.25,478.56 A20.50,6.50 0 0 0 840.25,478.56 L840.25,472.36 Z" fill="url(#ry)"/>
<ellipse cx="819.75" cy="473.66" rx="20.50" ry="7.80" fill="#f6bd15"/>
<ellipse cx="819.75" cy="472.36" rx="20.50" ry="6.50" fill="#f3b914"/>
<path d="M801.00,466.17 L801.00,472.36 A20.50,6.50 0 0 0 842.00,472.36 L842.00,466.17 Z" fill="url(#ry)"/>
<ellipse cx="821.50" cy="467.47" rx="20.50" ry="7.80" fill="#f6bd15"/>
<ellipse cx="821.50" cy="466.17" rx="20.50" ry="6.50" fill="#f3b914"/>
<path d="M799.25,459.97 L799.25,466.17 A20.50,6.50 0 0 0 840.25,466.17 L840.25,459.97 Z" fill="url(#ry)"/>
<ellipse cx="819.75" cy="461.27" rx="20.50" ry="7.80" fill="#f6bd15"/>
<ellipse cx="819.75" cy="459.97" rx="20.50" ry="6.50" fill="#f3b914"/>
<path d="M800.00,453.78 L800.00,459.97 A20.50,6.50 0 0 0 841.00,459.97 L841.00,453.78 Z" fill="url(#ry)"/>
<ellipse cx="820.50" cy="455.08" rx="20.50" ry="7.80" fill="#f6bd15"/>
<ellipse cx="820.50" cy="453.78" rx="20.50" ry="6.50" fill="#f3b914"/>
<path d="M800.00,447.58 L800.00,453.78 A20.50,6.50 0 0 0 841.00,453.78 L841.00,447.58 Z" fill="url(#ry)"/>
<ellipse cx="820.50" cy="448.88" rx="20.50" ry="7.80" fill="#f6bd15"/>
<ellipse cx="820.50" cy="447.58" rx="20.50" ry="6.50" fill="#f3b914"/>
<path d="M799.25,441.39 L799.25,447.58 A20.50,6.50 0 0 0 840.25,447.58 L840.25,441.39 Z" fill="url(#ry)"/>
<ellipse cx="819.75" cy="442.69" rx="20.50" ry="7.80" fill="#f6bd15"/>
<ellipse cx="819.75" cy="441.39" rx="20.50" ry="6.50" fill="#f3b914"/>
<path d="M799.25,435.19 L799.25,441.39 A20.50,6.50 0 0 0 840.25,441.39 L840.25,435.19 Z" fill="url(#ry)"/>
<ellipse cx="819.75" cy="436.49" rx="20.50" ry="7.80" fill="#f6bd15"/>
<ellipse cx="819.75" cy="435.19" rx="20.50" ry="6.50" fill="#f3b914"/>
<path d="M798.00,429.00 L798.00,435.19 A20.50,6.50 0 0 0 839.00,435.19 L839.00,429.00 Z" fill="url(#ry)"/>
<ellipse cx="818.50" cy="430.30" rx="20.50" ry="7.80" fill="#f6bd15"/>
<ellipse cx="818.50" cy="429.00" rx="20.50" ry="6.50" fill="#f3b914"/>
<path d="M803.00,422.81 L803.00,429.00 A20.50,6.50 0 0 0 844.00,429.00 L844.00,422.81 Z" fill="url(#ry)"/>
<ellipse cx="823.50" cy="424.11" rx="20.50" ry="7.80" fill="#f6bd15"/>
<ellipse cx="823.50" cy="422.81" rx="20.50" ry="6.50" fill="#f3b914"/>
<path d="M801.00,416.61 L801.00,422.81 A20.50,6.50 0 0 0 842.00,422.81 L842.00,416.61 Z" fill="url(#ry)"/>
<ellipse cx="821.50" cy="417.91" rx="20.50" ry="7.80" fill="#f6bd15"/>
<ellipse cx="821.50" cy="416.61" rx="20.50" ry="6.50" fill="#f3b914"/>
<path d="M799.25,410.42 L799.25,416.61 A20.50,6.50 0 0 0 840.25,416.61 L840.25,410.42 Z" fill="url(#ry)"/>
<ellipse cx="819.75" cy="411.72" rx="20.50" ry="7.80" fill="#f6bd15"/>
<ellipse cx="819.75" cy="410.42" rx="20.50" ry="6.50" fill="#f3b914"/>
<path d="M800.00,404.22 L800.00,410.42 A20.50,6.50 0 0 0 841.00,410.42 L841.00,404.22 Z" fill="url(#ry)"/>
<ellipse cx="820.50" cy="405.52" rx="20.50" ry="7.80" fill="#f6bd15"/>
<ellipse cx="820.50" cy="404.22" rx="20.50" ry="6.50" fill="#f3b914"/>
<path d="M800.50,398.03 L800.50,404.22 A20.50,6.50 0 0 0 841.50,404.22 L841.50,398.03 Z" fill="url(#ry)"/>
<ellipse cx="821.00" cy="399.33" rx="20.50" ry="7.80" fill="#f6bd15"/>
<ellipse cx="821.00" cy="398.03" rx="20.50" ry="6.50" fill="#f3b914"/>
<path d="M798.00,391.83 L798.00,398.03 A20.50,6.50 0 0 0 839.00,398.03 L839.00,391.83 Z" fill="url(#ry)"/>
<ellipse cx="818.50" cy="393.13" rx="20.50" ry="7.80" fill="#f6bd15"/>
<ellipse cx="818.50" cy="391.83" rx="20.50" ry="6.50" fill="#f3b914"/>
<path d="M801.75,385.64 L801.75,391.83 A20.50,6.50 0 0 0 842.75,391.83 L842.75,385.64 Z" fill="url(#ry)"/>
<ellipse cx="822.25" cy="386.94" rx="20.50" ry="7.80" fill="#f6bd15"/>
<ellipse cx="822.25" cy="385.64" rx="20.50" ry="6.50" fill="#f3b914"/>
<path d="M799.25,379.44 L799.25,385.64 A20.50,6.50 0 0 0 840.25,385.64 L840.25,379.44 Z" fill="url(#ry)"/>
<ellipse cx="819.75" cy="380.74" rx="20.50" ry="7.80" fill="#f6bd15"/>
<ellipse cx="819.75" cy="379.44" rx="20.50" ry="6.50" fill="#f3b914"/>
<path d="M801.00,373.25 L801.00,379.44 A20.50,6.50 0 0 0 842.00,379.44 L842.00,373.25 Z" fill="url(#ry)"/>
<ellipse cx="821.50" cy="374.55" rx="20.50" ry="7.80" fill="#f6bd15"/>
<ellipse cx="821.50" cy="373.25" rx="20.50" ry="6.50" fill="#f3b914"/>
<path d="M800.00,367.06 L800.00,373.25 A20.50,6.50 0 0 0 841.00,373.25 L841.00,367.06 Z" fill="url(#ry)"/>
<ellipse cx="820.50" cy="368.36" rx="20.50" ry="7.80" fill="#f6bd15"/>
<ellipse cx="820.50" cy="367.06" rx="20.50" ry="6.50" fill="#f3b914"/>
<path d="M803.00,360.86 L803.00,367.06 A20.50,6.50 0 0 0 844.00,367.06 L844.00,360.86 Z" fill="url(#ry)"/>
<ellipse cx="823.50" cy="362.16" rx="20.50" ry="7.80" fill="#f6bd15"/>
<ellipse cx="823.50" cy="360.86" rx="20.50" ry="6.50" fill="#f3b914"/>
<path d="M798.00,354.67 L798.00,360.86 A20.50,6.50 0 0 0 839.00,360.86 L839.00,354.67 Z" fill="url(#ry)"/>
<ellipse cx="818.50" cy="355.97" rx="20.50" ry="7.80" fill="#f6bd15"/>
<ellipse cx="818.50" cy="354.67" rx="20.50" ry="6.50" fill="#f3b914"/>
<path d="M800.50,348.47 L800.50,354.67 A20.50,6.50 0 0 0 841.50,354.67 L841.50,348.47 Z" fill="url(#ry)"/>
<ellipse cx="821.00" cy="349.77" rx="20.50" ry="7.80" fill="#f6bd15"/>
<ellipse cx="821.00" cy="348.47" rx="20.50" ry="6.50" fill="#f3b914"/>
<path d="M801.00,342.28 L801.00,348.47 A20.50,6.50 0 0 0 842.00,348.47 L842.00,342.28 Z" fill="url(#ry)"/>
<ellipse cx="821.50" cy="343.58" rx="20.50" ry="7.80" fill="#f6bd15"/>
<ellipse cx="821.50" cy="342.28" rx="20.50" ry="6.50" fill="#f3b914"/>
<path d="M799.25,336.08 L799.25,342.28 A20.50,6.50 0 0 0 840.25,342.28 L840.25,336.08 Z" fill="url(#ry)"/>
<ellipse cx="819.75" cy="337.38" rx="20.50" ry="7.80" fill="#f6bd15"/>
<ellipse cx="819.75" cy="336.08" rx="20.50" ry="6.50" fill="#f3b914"/>
<path d="M798.00,329.89 L798.00,336.08 A20.50,6.50 0 0 0 839.00,336.08 L839.00,329.89 Z" fill="url(#ry)"/>
<ellipse cx="818.50" cy="331.19" rx="20.50" ry="7.80" fill="#f6bd15"/>
<ellipse cx="818.50" cy="329.89" rx="20.50" ry="6.50" fill="#f3b914"/>
<path d="M801.00,323.69 L801.00,329.89 A20.50,6.50 0 0 0 842.00,329.89 L842.00,323.69 Z" fill="url(#ry)"/>
<ellipse cx="821.50" cy="324.99" rx="20.50" ry="7.80" fill="#f6bd15"/>
<ellipse cx="821.50" cy="323.69" rx="20.50" ry="6.50" fill="#f3b914"/>
<path d="M801.00,317.50 L801.00,323.69 A20.50,6.50 0 0 0 842.00,323.69 L842.00,317.50 Z" fill="url(#ry)"/>
<ellipse cx="821.50" cy="318.80" rx="20.50" ry="7.80" fill="#f6bd15"/>
<ellipse cx="821.50" cy="317.50" rx="20.50" ry="6.50" fill="#f3b914"/>
<path d="M801.00,311.31 L801.00,317.50 A20.50,6.50 0 0 0 842.00,317.50 L842.00,311.31 Z" fill="url(#ry)"/>
<ellipse cx="821.50" cy="312.61" rx="20.50" ry="7.80" fill="#f6bd15"/>
<ellipse cx="821.50" cy="311.31" rx="20.50" ry="6.50" fill="#f3b914"/>
<path d="M801.00,305.11 L801.00,311.31 A20.50,6.50 0 0 0 842.00,311.31 L842.00,305.11 Z" fill="url(#ry)"/>
<ellipse cx="821.50" cy="306.41" rx="20.50" ry="7.80" fill="#f6bd15"/>
<ellipse cx="821.50" cy="305.11" rx="20.50" ry="6.50" fill="#f3b914"/>
<path d="M800.50,298.92 L800.50,305.11 A20.50,6.50 0 0 0 841.50,305.11 L841.50,298.92 Z" fill="url(#ry)"/>
<ellipse cx="821.00" cy="300.22" rx="20.50" ry="7.80" fill="#f6bd15"/>
<ellipse cx="821.00" cy="298.92" rx="20.50" ry="6.50" fill="#f3b914"/>
<path d="M801.00,292.72 L801.00,298.92 A20.50,6.50 0 0 0 842.00,298.92 L842.00,292.72 Z" fill="url(#ry)"/>
<ellipse cx="821.50" cy="294.02" rx="20.50" ry="7.80" fill="#f6bd15"/>
<ellipse cx="821.50" cy="292.72" rx="20.50" ry="6.50" fill="#f3b914"/>
<path d="M801.75,286.53 L801.75,292.72 A20.50,6.50 0 0 0 842.75,292.72 L842.75,286.53 Z" fill="url(#ry)"/>
<ellipse cx="822.25" cy="287.83" rx="20.50" ry="7.80" fill="#f6bd15"/>
<ellipse cx="822.25" cy="286.53" rx="20.50" ry="6.50" fill="#f3b914"/>
<path d="M800.00,280.33 L800.00,286.53 A20.50,6.50 0 0 0 841.00,286.53 L841.00,280.33 Z" fill="url(#ry)"/>
<ellipse cx="820.50" cy="281.63" rx="20.50" ry="7.80" fill="#f6bd15"/>
<ellipse cx="820.50" cy="280.33" rx="20.50" ry="6.50" fill="#f3b914"/>
<path d="M801.75,274.14 L801.75,280.33 A20.50,6.50 0 0 0 842.75,280.33 L842.75,274.14 Z" fill="url(#ry)"/>
<ellipse cx="822.25" cy="275.44" rx="20.50" ry="7.80" fill="#f6bd15"/>
<ellipse cx="822.25" cy="274.14" rx="20.50" ry="6.50" fill="#f3b914"/>
<path d="M799.25,267.94 L799.25,274.14 A20.50,6.50 0 0 0 840.25,274.14 L840.25,267.94 Z" fill="url(#ry)"/>
<ellipse cx="819.75" cy="269.24" rx="20.50" ry="7.80" fill="#f6bd15"/>
<ellipse cx="819.75" cy="267.94" rx="20.50" ry="6.50" fill="#f3b914"/>
<path d="M801.00,261.75 L801.00,267.94 A20.50,6.50 0 0 0 842.00,267.94 L842.00,261.75 Z" fill="url(#ry)"/>
<ellipse cx="821.50" cy="263.05" rx="20.50" ry="7.80" fill="#f6bd15"/>
<ellipse cx="821.50" cy="261.75" rx="20.50" ry="6.50" fill="#f3b914"/>
<path d="M800.50,255.56 L800.50,261.75 A20.50,6.50 0 0 0 841.50,261.75 L841.50,255.56 Z" fill="url(#ry)"/>
<ellipse cx="821.00" cy="256.86" rx="20.50" ry="7.80" fill="#f6bd15"/>
<ellipse cx="821.00" cy="255.56" rx="20.50" ry="6.50" fill="#f3b914"/>
<path d="M800.50,249.36 L800.50,255.56 A20.50,6.50 0 0 0 841.50,255.56 L841.50,249.36 Z" fill="url(#ry)"/>
<ellipse cx="821.00" cy="250.66" rx="20.50" ry="7.80" fill="#f6bd15"/>
<ellipse cx="821.00" cy="249.36" rx="20.50" ry="6.50" fill="#f3b914"/>
<path d="M801.00,243.17 L801.00,249.36 A20.50,6.50 0 0 0 842.00,249.36 L842.00,243.17 Z" fill="url(#ry)"/>
<ellipse cx="821.50" cy="244.47" rx="20.50" ry="7.80" fill="#f6bd15"/>
<ellipse cx="821.50" cy="243.17" rx="20.50" ry="6.50" fill="#f3b914"/>
<path d="M799.25,236.97 L799.25,243.17 A20.50,6.50 0 0 0 840.25,243.17 L840.25,236.97 Z" fill="url(#ry)"/>
<ellipse cx="819.75" cy="238.27" rx="20.50" ry="7.80" fill="#f6bd15"/>
<ellipse cx="819.75" cy="236.97" rx="20.50" ry="6.50" fill="#f3b914"/>
<path d="M801.75,230.78 L801.75,236.97 A20.50,6.50 0 0 0 842.75,236.97 L842.75,230.78 Z" fill="url(#ry)"/>
<ellipse cx="822.25" cy="232.08" rx="20.50" ry="7.80" fill="#f6bd15"/>
<ellipse cx="822.25" cy="230.78" rx="20.50" ry="6.50" fill="#f3b914"/>
<path d="M801.00,224.58 L801.00,230.78 A20.50,6.50 0 0 0 842.00,230.78 L842.00,224.58 Z" fill="url(#ry)"/>
<ellipse cx="821.50" cy="225.88" rx="20.50" ry="7.80" fill="#f6bd15"/>
<ellipse cx="821.50" cy="224.58" rx="20.50" ry="6.50" fill="#f3b914"/>
<path d="M803.00,218.39 L803.00,224.58 A20.50,6.50 0 0 0 844.00,224.58 L844.00,218.39 Z" fill="url(#ry)"/>
<ellipse cx="823.50" cy="219.69" rx="20.50" ry="7.80" fill="#f6bd15"/>
<ellipse cx="823.50" cy="218.39" rx="20.50" ry="6.50" fill="#f3b914"/>
<path d="M803.00,212.19 L803.00,218.39 A20.50,6.50 0 0 0 844.00,218.39 L844.00,212.19 Z" fill="url(#ry)"/>
<ellipse cx="823.50" cy="213.49" rx="20.50" ry="7.80" fill="#f6bd15"/>
<ellipse cx="823.50" cy="212.19" rx="20.50" ry="6.50" fill="#f3b914"/>
<path d="M802.00,206.00 L802.00,212.19 A20.50,6.50 0 0 0 843.00,212.19 L843.00,206.00 Z" fill="url(#ry)"/>
<ellipse cx="822.50" cy="207.30" rx="20.50" ry="7.80" fill="#f6bd15"/>
<ellipse cx="822.50" cy="206.00" rx="20.50" ry="6.50" fill="#f3b914"/>
<path d="M837.50,534.33 L837.50,540.50 A20.50,6.50 0 0 0 878.50,540.50 L878.50,534.33 Z" fill="url(#rb)"/>
<ellipse cx="858.00" cy="535.63" rx="20.50" ry="7.80" fill="#b2550c"/>
<ellipse cx="858.00" cy="534.33" rx="20.50" ry="6.50" fill="#b3530b"/>
<path d="M842.00,528.15 L842.00,534.33 A20.50,6.50 0 0 0 883.00,534.33 L883.00,528.15 Z" fill="url(#rb)"/>
<ellipse cx="862.50" cy="529.45" rx="20.50" ry="7.80" fill="#b2550c"/>
<ellipse cx="862.50" cy="528.15" rx="20.50" ry="6.50" fill="#b3530b"/>
<path d="M839.30,521.98 L839.30,528.15 A20.50,6.50 0 0 0 880.30,528.15 L880.30,521.98 Z" fill="url(#rb)"/>
<ellipse cx="859.80" cy="523.28" rx="20.50" ry="7.80" fill="#b2550c"/>
<ellipse cx="859.80" cy="521.98" rx="20.50" ry="6.50" fill="#b3530b"/>
<path d="M840.20,515.81 L840.20,521.98 A20.50,6.50 0 0 0 881.20,521.98 L881.20,515.81 Z" fill="url(#rb)"/>
<ellipse cx="860.70" cy="517.11" rx="20.50" ry="7.80" fill="#b2550c"/>
<ellipse cx="860.70" cy="515.81" rx="20.50" ry="6.50" fill="#b3530b"/>
<path d="M839.30,509.63 L839.30,515.81 A20.50,6.50 0 0 0 880.30,515.81 L880.30,509.63 Z" fill="url(#rb)"/>
<ellipse cx="859.80" cy="510.93" rx="20.50" ry="7.80" fill="#b2550c"/>
<ellipse cx="859.80" cy="509.63" rx="20.50" ry="6.50" fill="#b3530b"/>
<path d="M842.00,503.46 L842.00,509.63 A20.50,6.50 0 0 0 883.00,509.63 L883.00,503.46 Z" fill="url(#rb)"/>
<ellipse cx="862.50" cy="504.76" rx="20.50" ry="7.80" fill="#b2550c"/>
<ellipse cx="862.50" cy="503.46" rx="20.50" ry="6.50" fill="#b3530b"/>
<path d="M838.62,497.28 L838.62,503.46 A20.50,6.50 0 0 0 879.62,503.46 L879.62,497.28 Z" fill="url(#rb)"/>
<ellipse cx="859.12" cy="498.58" rx="20.50" ry="7.80" fill="#b2550c"/>
<ellipse cx="859.12" cy="497.28" rx="20.50" ry="6.50" fill="#b3530b"/>
<path d="M839.75,491.11 L839.75,497.28 A20.50,6.50 0 0 0 880.75,497.28 L880.75,491.11 Z" fill="url(#rb)"/>
<ellipse cx="860.25" cy="492.41" rx="20.50" ry="7.80" fill="#b2550c"/>
<ellipse cx="860.25" cy="491.11" rx="20.50" ry="6.50" fill="#b3530b"/>
<path d="M839.30,484.94 L839.30,491.11 A20.50,6.50 0 0 0 880.30,491.11 L880.30,484.94 Z" fill="url(#rb)"/>
<ellipse cx="859.80" cy="486.24" rx="20.50" ry="7.80" fill="#b2550c"/>
<ellipse cx="859.80" cy="484.94" rx="20.50" ry="6.50" fill="#b3530b"/>
<path d="M839.75,478.76 L839.75,484.94 A20.50,6.50 0 0 0 880.75,484.94 L880.75,478.76 Z" fill="url(#rb)"/>
<ellipse cx="860.25" cy="480.06" rx="20.50" ry="7.80" fill="#b2550c"/>
<ellipse cx="860.25" cy="478.76" rx="20.50" ry="6.50" fill="#b3530b"/>
<path d="M839.75,472.59 L839.75,478.76 A20.50,6.50 0 0 0 880.75,478.76 L880.75,472.59 Z" fill="url(#rb)"/>
<ellipse cx="860.25" cy="473.89" rx="20.50" ry="7.80" fill="#b2550c"/>
<ellipse cx="860.25" cy="472.59" rx="20.50" ry="6.50" fill="#b3530b"/>
<path d="M839.30,466.42 L839.30,472.59 A20.50,6.50 0 0 0 880.30,472.59 L880.30,466.42 Z" fill="url(#rb)"/>
<ellipse cx="859.80" cy="467.72" rx="20.50" ry="7.80" fill="#b2550c"/>
<ellipse cx="859.80" cy="466.42" rx="20.50" ry="6.50" fill="#b3530b"/>
<path d="M837.50,460.24 L837.50,466.42 A20.50,6.50 0 0 0 878.50,466.42 L878.50,460.24 Z" fill="url(#rb)"/>
<ellipse cx="858.00" cy="461.54" rx="20.50" ry="7.80" fill="#b2550c"/>
<ellipse cx="858.00" cy="460.24" rx="20.50" ry="6.50" fill="#b3530b"/>
<path d="M839.30,454.07 L839.30,460.24 A20.50,6.50 0 0 0 880.30,460.24 L880.30,454.07 Z" fill="url(#rb)"/>
<ellipse cx="859.80" cy="455.37" rx="20.50" ry="7.80" fill="#b2550c"/>
<ellipse cx="859.80" cy="454.07" rx="20.50" ry="6.50" fill="#b3530b"/>
<path d="M840.88,447.89 L840.88,454.07 A20.50,6.50 0 0 0 881.88,454.07 L881.88,447.89 Z" fill="url(#rb)"/>
<ellipse cx="861.38" cy="449.19" rx="20.50" ry="7.80" fill="#b2550c"/>
<ellipse cx="861.38" cy="447.89" rx="20.50" ry="6.50" fill="#b3530b"/>
<path d="M839.75,441.72 L839.75,447.89 A20.50,6.50 0 0 0 880.75,447.89 L880.75,441.72 Z" fill="url(#rb)"/>
<ellipse cx="860.25" cy="443.02" rx="20.50" ry="7.80" fill="#b2550c"/>
<ellipse cx="860.25" cy="441.72" rx="20.50" ry="6.50" fill="#b3530b"/>
<path d="M840.88,435.55 L840.88,441.72 A20.50,6.50 0 0 0 881.88,441.72 L881.88,435.55 Z" fill="url(#rb)"/>
<ellipse cx="861.38" cy="436.85" rx="20.50" ry="7.80" fill="#b2550c"/>
<ellipse cx="861.38" cy="435.55" rx="20.50" ry="6.50" fill="#b3530b"/>
<path d="M839.30,429.37 L839.30,435.55 A20.50,6.50 0 0 0 880.30,435.55 L880.30,429.37 Z" fill="url(#rb)"/>
<ellipse cx="859.80" cy="430.67" rx="20.50" ry="7.80" fill="#b2550c"/>
<ellipse cx="859.80" cy="429.37" rx="20.50" ry="6.50" fill="#b3530b"/>
<path d="M841.70,423.20 L841.70,429.37 A20.50,6.50 0 0 0 882.70,429.37 L882.70,423.20 Z" fill="url(#rb)"/>
<ellipse cx="862.20" cy="424.50" rx="20.50" ry="7.80" fill="#b2550c"/>
<ellipse cx="862.20" cy="423.20" rx="20.50" ry="6.50" fill="#b3530b"/>
<path d="M922.00,534.22 L922.00,540.50 A20.50,6.50 0 0 0 963.00,540.50 L963.00,534.22 Z" fill="url(#ry)"/>
<ellipse cx="942.50" cy="535.52" rx="20.50" ry="7.80" fill="#f6bd15"/>
<ellipse cx="942.50" cy="534.22" rx="20.50" ry="6.50" fill="#f3b914"/>
<path d="M921.00,527.94 L921.00,534.22 A20.50,6.50 0 0 0 962.00,534.22 L962.00,527.94 Z" fill="url(#ry)"/>
<ellipse cx="941.50" cy="529.24" rx="20.50" ry="7.80" fill="#f6bd15"/>
<ellipse cx="941.50" cy="527.94" rx="20.50" ry="6.50" fill="#f3b914"/>
<path d="M925.00,521.66 L925.00,527.94 A20.50,6.50 0 0 0 966.00,527.94 L966.00,521.66 Z" fill="url(#ry)"/>
<ellipse cx="945.50" cy="522.96" rx="20.50" ry="7.80" fill="#f6bd15"/>
<ellipse cx="945.50" cy="521.66" rx="20.50" ry="6.50" fill="#f3b914"/>
<path d="M922.60,515.39 L922.60,521.66 A20.50,6.50 0 0 0 963.60,521.66 L963.60,515.39 Z" fill="url(#ry)"/>
<ellipse cx="943.10" cy="516.69" rx="20.50" ry="7.80" fill="#f6bd15"/>
<ellipse cx="943.10" cy="515.39" rx="20.50" ry="6.50" fill="#f3b914"/>
<path d="M921.00,509.11 L921.00,515.39 A20.50,6.50 0 0 0 962.00,515.39 L962.00,509.11 Z" fill="url(#ry)"/>
<ellipse cx="941.50" cy="510.41" rx="20.50" ry="7.80" fill="#f6bd15"/>
<ellipse cx="941.50" cy="509.11" rx="20.50" ry="6.50" fill="#f3b914"/>
<path d="M922.00,502.83 L922.00,509.11 A20.50,6.50 0 0 0 963.00,509.11 L963.00,502.83 Z" fill="url(#ry)"/>
<ellipse cx="942.50" cy="504.13" rx="20.50" ry="7.80" fill="#f6bd15"/>
<ellipse cx="942.50" cy="502.83" rx="20.50" ry="6.50" fill="#f3b914"/>
<path d="M922.00,496.55 L922.00,502.83 A20.50,6.50 0 0 0 963.00,502.83 L963.00,496.55 Z" fill="url(#ry)"/>
<ellipse cx="942.50" cy="497.85" rx="20.50" ry="7.80" fill="#f6bd15"/>
<ellipse cx="942.50" cy="496.55" rx="20.50" ry="6.50" fill="#f3b914"/>
<path d="M921.00,490.27 L921.00,496.55 A20.50,6.50 0 0 0 962.00,496.55 L962.00,490.27 Z" fill="url(#ry)"/>
<ellipse cx="941.50" cy="491.57" rx="20.50" ry="7.80" fill="#f6bd15"/>
<ellipse cx="941.50" cy="490.27" rx="20.50" ry="6.50" fill="#f3b914"/>
<path d="M921.00,483.99 L921.00,490.27 A20.50,6.50 0 0 0 962.00,490.27 L962.00,483.99 Z" fill="url(#ry)"/>
<ellipse cx="941.50" cy="485.29" rx="20.50" ry="7.80" fill="#f6bd15"/>
<ellipse cx="941.50" cy="483.99" rx="20.50" ry="6.50" fill="#f3b914"/>
<path d="M923.40,477.71 L923.40,483.99 A20.50,6.50 0 0 0 964.40,483.99 L964.40,477.71 Z" fill="url(#ry)"/>
<ellipse cx="943.90" cy="479.01" rx="20.50" ry="7.80" fill="#f6bd15"/>
<ellipse cx="943.90" cy="477.71" rx="20.50" ry="6.50" fill="#f3b914"/>
<path d="M922.60,471.44 L922.60,477.71 A20.50,6.50 0 0 0 963.60,477.71 L963.60,471.44 Z" fill="url(#ry)"/>
<ellipse cx="943.10" cy="472.74" rx="20.50" ry="7.80" fill="#f6bd15"/>
<ellipse cx="943.10" cy="471.44" rx="20.50" ry="6.50" fill="#f3b914"/>
<path d="M922.00,465.16 L922.00,471.44 A20.50,6.50 0 0 0 963.00,471.44 L963.00,465.16 Z" fill="url(#ry)"/>
<ellipse cx="942.50" cy="466.46" rx="20.50" ry="7.80" fill="#f6bd15"/>
<ellipse cx="942.50" cy="465.16" rx="20.50" ry="6.50" fill="#f3b914"/>
<path d="M923.40,458.88 L923.40,465.16 A20.50,6.50 0 0 0 964.40,465.16 L964.40,458.88 Z" fill="url(#ry)"/>
<ellipse cx="943.90" cy="460.18" rx="20.50" ry="7.80" fill="#f6bd15"/>
<ellipse cx="943.90" cy="458.88" rx="20.50" ry="6.50" fill="#f3b914"/>
<path d="M922.60,452.60 L922.60,458.88 A20.50,6.50 0 0 0 963.60,458.88 L963.60,452.60 Z" fill="url(#ry)"/>
<ellipse cx="943.10" cy="453.90" rx="20.50" ry="7.80" fill="#f6bd15"/>
<ellipse cx="943.10" cy="452.60" rx="20.50" ry="6.50" fill="#f3b914"/>
<path d="M923.00,446.32 L923.00,452.60 A20.50,6.50 0 0 0 964.00,452.60 L964.00,446.32 Z" fill="url(#ry)"/>
<ellipse cx="943.50" cy="447.62" rx="20.50" ry="7.80" fill="#f6bd15"/>
<ellipse cx="943.50" cy="446.32" rx="20.50" ry="6.50" fill="#f3b914"/>
<path d="M922.00,440.04 L922.00,446.32 A20.50,6.50 0 0 0 963.00,446.32 L963.00,440.04 Z" fill="url(#ry)"/>
<ellipse cx="942.50" cy="441.34" rx="20.50" ry="7.80" fill="#f6bd15"/>
<ellipse cx="942.50" cy="440.04" rx="20.50" ry="6.50" fill="#f3b914"/>
<path d="M921.00,433.76 L921.00,440.04 A20.50,6.50 0 0 0 962.00,440.04 L962.00,433.76 Z" fill="url(#ry)"/>
<ellipse cx="941.50" cy="435.06" rx="20.50" ry="7.80" fill="#f6bd15"/>
<ellipse cx="941.50" cy="433.76" rx="20.50" ry="6.50" fill="#f3b914"/>
<path d="M923.00,427.49 L923.00,433.76 A20.50,6.50 0 0 0 964.00,433.76 L964.00,427.49 Z" fill="url(#ry)"/>
<ellipse cx="943.50" cy="428.79" rx="20.50" ry="7.80" fill="#f6bd15"/>
<ellipse cx="943.50" cy="427.49" rx="20.50" ry="6.50" fill="#f3b914"/>
<path d="M924.00,421.21 L924.00,427.49 A20.50,6.50 0 0 0 965.00,427.49 L965.00,421.21 Z" fill="url(#ry)"/>
<ellipse cx="944.50" cy="422.51" rx="20.50" ry="7.80" fill="#f6bd15"/>
<ellipse cx="944.50" cy="421.21" rx="20.50" ry="6.50" fill="#f3b914"/>
<path d="M922.60,414.93 L922.60,421.21 A20.50,6.50 0 0 0 963.60,421.21 L963.60,414.93 Z" fill="url(#ry)"/>
<ellipse cx="943.10" cy="416.23" rx="20.50" ry="7.80" fill="#f6bd15"/>
<ellipse cx="943.10" cy="414.93" rx="20.50" ry="6.50" fill="#f3b914"/>
<path d="M923.00,408.65 L923.00,414.93 A20.50,6.50 0 0 0 964.00,414.93 L964.00,408.65 Z" fill="url(#ry)"/>
<ellipse cx="943.50" cy="409.95" rx="20.50" ry="7.80" fill="#f6bd15"/>
<ellipse cx="943.50" cy="408.65" rx="20.50" ry="6.50" fill="#f3b914"/>
<path d="M923.00,402.37 L923.00,408.65 A20.50,6.50 0 0 0 964.00,408.65 L964.00,402.37 Z" fill="url(#ry)"/>
<ellipse cx="943.50" cy="403.67" rx="20.50" ry="7.80" fill="#f6bd15"/>
<ellipse cx="943.50" cy="402.37" rx="20.50" ry="6.50" fill="#f3b914"/>
<path d="M924.00,396.09 L924.00,402.37 A20.50,6.50 0 0 0 965.00,402.37 L965.00,396.09 Z" fill="url(#ry)"/>
<ellipse cx="944.50" cy="397.39" rx="20.50" ry="7.80" fill="#f6bd15"/>
<ellipse cx="944.50" cy="396.09" rx="20.50" ry="6.50" fill="#f3b914"/>
<path d="M923.00,389.81 L923.00,396.09 A20.50,6.50 0 0 0 964.00,396.09 L964.00,389.81 Z" fill="url(#ry)"/>
<ellipse cx="943.50" cy="391.11" rx="20.50" ry="7.80" fill="#f6bd15"/>
<ellipse cx="943.50" cy="389.81" rx="20.50" ry="6.50" fill="#f3b914"/>
<path d="M923.00,383.54 L923.00,389.81 A20.50,6.50 0 0 0 964.00,389.81 L964.00,383.54 Z" fill="url(#ry)"/>
<ellipse cx="943.50" cy="384.84" rx="20.50" ry="7.80" fill="#f6bd15"/>
<ellipse cx="943.50" cy="383.54" rx="20.50" ry="6.50" fill="#f3b914"/>
<path d="M922.00,377.26 L922.00,383.54 A20.50,6.50 0 0 0 963.00,383.54 L963.00,377.26 Z" fill="url(#ry)"/>
<ellipse cx="942.50" cy="378.56" rx="20.50" ry="7.80" fill="#f6bd15"/>
<ellipse cx="942.50" cy="377.26" rx="20.50" ry="6.50" fill="#f3b914"/>
<path d="M923.40,370.98 L923.40,377.26 A20.50,6.50 0 0 0 964.40,377.26 L964.40,370.98 Z" fill="url(#ry)"/>
<ellipse cx="943.90" cy="372.28" rx="20.50" ry="7.80" fill="#f6bd15"/>
<ellipse cx="943.90" cy="370.98" rx="20.50" ry="6.50" fill="#f3b914"/>
<path d="M925.00,364.70 L925.00,370.98 A20.50,6.50 0 0 0 966.00,370.98 L966.00,364.70 Z" fill="url(#ry)"/>
<ellipse cx="945.50" cy="366.00" rx="20.50" ry="7.80" fill="#f6bd15"/>
<ellipse cx="945.50" cy="364.70" rx="20.50" ry="6.50" fill="#f3b914"/>
<path d="M961.00,534.07 L961.00,540.50 A20.50,6.50 0 0 0 1002.00,540.50 L1002.00,534.07 Z" fill="url(#rb)"/>
<ellipse cx="981.50" cy="535.37" rx="20.50" ry="7.80" fill="#b2550c"/>
<ellipse cx="981.50" cy="534.07" rx="20.50" ry="6.50" fill="#b3530b"/>
<path d="M962.00,527.65 L962.00,534.07 A20.50,6.50 0 0 0 1003.00,534.07 L1003.00,527.65 Z" fill="url(#rb)"/>
<ellipse cx="982.50" cy="528.95" rx="20.50" ry="7.80" fill="#b2550c"/>
<ellipse cx="982.50" cy="527.65" rx="20.50" ry="6.50" fill="#b3530b"/>
<path d="M962.00,521.22 L962.00,527.65 A20.50,6.50 0 0 0 1003.00,527.65 L1003.00,521.22 Z" fill="url(#rb)"/>
<ellipse cx="982.50" cy="522.52" rx="20.50" ry="7.80" fill="#b2550c"/>
<ellipse cx="982.50" cy="521.22" rx="20.50" ry="6.50" fill="#b3530b"/>
<path d="M961.00,514.79 L961.00,521.22 A20.50,6.50 0 0 0 1002.00,521.22 L1002.00,514.79 Z" fill="url(#rb)"/>
<ellipse cx="981.50" cy="516.09" rx="20.50" ry="7.80" fill="#b2550c"/>
<ellipse cx="981.50" cy="514.79" rx="20.50" ry="6.50" fill="#b3530b"/>
<path d="M962.00,508.36 L962.00,514.79 A20.50,6.50 0 0 0 1003.00,514.79 L1003.00,508.36 Z" fill="url(#rb)"/>
<ellipse cx="982.50" cy="509.66" rx="20.50" ry="7.80" fill="#b2550c"/>
<ellipse cx="982.50" cy="508.36" rx="20.50" ry="6.50" fill="#b3530b"/>
<path d="M960.00,501.94 L960.00,508.36 A20.50,6.50 0 0 0 1001.00,508.36 L1001.00,501.94 Z" fill="url(#rb)"/>
<ellipse cx="980.50" cy="503.24" rx="20.50" ry="7.80" fill="#b2550c"/>
<ellipse cx="980.50" cy="501.94" rx="20.50" ry="6.50" fill="#b3530b"/>
<path d="M962.00,495.51 L962.00,501.94 A20.50,6.50 0 0 0 1003.00,501.94 L1003.00,495.51 Z" fill="url(#rb)"/>
<ellipse cx="982.50" cy="496.81" rx="20.50" ry="7.80" fill="#b2550c"/>
<ellipse cx="982.50" cy="495.51" rx="20.50" ry="6.50" fill="#b3530b"/>
<path d="M959.00,489.08 L959.00,495.51 A20.50,6.50 0 0 0 1000.00,495.51 L1000.00,489.08 Z" fill="url(#rb)"/>
<ellipse cx="979.50" cy="490.38" rx="20.50" ry="7.80" fill="#b2550c"/>
<ellipse cx="979.50" cy="489.08" rx="20.50" ry="6.50" fill="#b3530b"/>
<path d="M962.00,482.65 L962.00,489.08 A20.50,6.50 0 0 0 1003.00,489.08 L1003.00,482.65 Z" fill="url(#rb)"/>
<ellipse cx="982.50" cy="483.95" rx="20.50" ry="7.80" fill="#b2550c"/>
<ellipse cx="982.50" cy="482.65" rx="20.50" ry="6.50" fill="#b3530b"/>
<path d="M961.40,476.23 L961.40,482.65 A20.50,6.50 0 0 0 1002.40,482.65 L1002.40,476.23 Z" fill="url(#rb)"/>
<ellipse cx="981.90" cy="477.53" rx="20.50" ry="7.80" fill="#b2550c"/>
<ellipse cx="981.90" cy="476.23" rx="20.50" ry="6.50" fill="#b3530b"/>
<path d="M963.00,469.80 L963.00,476.23 A20.50,6.50 0 0 0 1004.00,476.23 L1004.00,469.80 Z" fill="url(#rb)"/>
<ellipse cx="983.50" cy="471.10" rx="20.50" ry="7.80" fill="#b2550c"/>
<ellipse cx="983.50" cy="469.80" rx="20.50" ry="6.50" fill="#b3530b"/>
<path d="M1043.00,534.40 L1043.00,540.50 A20.50,6.50 0 0 0 1084.00,540.50 L1084.00,534.40 Z" fill="url(#ry)"/>
<ellipse cx="1063.50" cy="535.70" rx="20.50" ry="7.80" fill="#f6bd15"/>
<ellipse cx="1063.50" cy="534.40" rx="20.50" ry="6.50" fill="#f3b914"/>
<path d="M1042.50,528.30 L1042.50,534.40 A20.50,6.50 0 0 0 1083.50,534.40 L1083.50,528.30 Z" fill="url(#ry)"/>
<ellipse cx="1063.00" cy="529.60" rx="20.50" ry="7.80" fill="#f6bd15"/>
<ellipse cx="1063.00" cy="528.30" rx="20.50" ry="6.50" fill="#f3b914"/>
<path d="M1042.20,522.20 L1042.20,528.30 A20.50,6.50 0 0 0 1083.20,528.30 L1083.20,522.20 Z" fill="url(#ry)"/>
<ellipse cx="1062.70" cy="523.50" rx="20.50" ry="7.80" fill="#f6bd15"/>
<ellipse cx="1062.70" cy="522.20" rx="20.50" ry="6.50" fill="#f3b914"/>
<path d="M1043.50,516.10 L1043.50,522.20 A20.50,6.50 0 0 0 1084.50,522.20 L1084.50,516.10 Z" fill="url(#ry)"/>
<ellipse cx="1064.00" cy="517.40" rx="20.50" ry="7.80" fill="#f6bd15"/>
<ellipse cx="1064.00" cy="516.10" rx="20.50" ry="6.50" fill="#f3b914"/>
<path d="M1078.75,534.73 L1078.75,540.50 A20.50,6.50 0 0 0 1119.75,540.50 L1119.75,534.73 Z" fill="url(#rb)"/>
<ellipse cx="1099.25" cy="536.03" rx="20.50" ry="7.80" fill="#b2550c"/>
<ellipse cx="1099.25" cy="534.73" rx="20.50" ry="6.50" fill="#b3530b"/>
<path d="M1078.00,528.97 L1078.00,534.73 A20.50,6.50 0 0 0 1119.00,534.73 L1119.00,528.97 Z" fill="url(#rb)"/>
<ellipse cx="1098.50" cy="530.27" rx="20.50" ry="7.80" fill="#b2550c"/>
<ellipse cx="1098.50" cy="528.97" rx="20.50" ry="6.50" fill="#b3530b"/>
<path d="M1081.50,523.20 L1081.50,528.97 A20.50,6.50 0 0 0 1122.50,528.97 L1122.50,523.20 Z" fill="url(#rb)"/>
<ellipse cx="1102.00" cy="524.50" rx="20.50" ry="7.80" fill="#b2550c"/>
<ellipse cx="1102.00" cy="523.20" rx="20.50" ry="6.50" fill="#b3530b"/>
</g>
<!-- legend -->
<rect x="807.8" y="104.8" width="6.5" height="6.7" fill="#f1b816"/>
<rect x="913.2" y="104.8" width="6.3" height="6.7" fill="#a6470b"/>

<!-- sleeve -->
<polygon points="0,146.6 49,160.5 25,248 0,243.2" fill="#2f4d85"/>
<polygon points="47.4,160.2 65.2,163.7 45,240.8 28.5,237.2" fill="#8fd3ef"/>
<!-- hand -->
<path d="M62.00,165.50 C67.78,166.25 85.37,168.88 96.70,170.00 C108.03,171.12 119.78,171.13 130.00,172.20 C140.22,173.27 150.50,174.43 158.00,176.40 C165.50,178.37 168.67,179.98 175.00,184.00 C181.33,188.02 189.50,194.25 196.00,200.50 C202.50,206.75 209.08,214.83 214.00,221.50 C218.92,228.17 222.78,235.20 225.50,240.50 C228.22,245.80 229.15,250.12 230.30,253.30 C231.45,256.48 232.57,258.10 232.40,259.60 C232.23,261.10 230.87,262.13 229.30,262.30 C227.73,262.47 225.60,262.78 223.00,260.60 C220.40,258.42 218.02,253.52 213.70,249.20 C209.38,244.88 202.98,239.20 197.10,234.70 C191.22,230.20 184.27,225.60 178.40,222.20 C172.53,218.80 168.80,216.02 161.90,214.30 C155.00,212.58 143.58,211.62 137.00,211.90 C130.42,212.18 125.87,213.93 122.40,216.00 C118.93,218.07 116.88,221.53 116.20,224.30 C115.52,227.07 115.88,228.80 118.30,232.60 C120.72,236.40 125.17,242.60 130.70,247.10 C136.23,251.60 145.78,255.78 151.50,259.60 C157.22,263.42 161.55,266.55 165.00,270.00 C168.45,273.45 170.82,277.37 172.20,280.30 C173.58,283.23 173.63,285.52 173.30,287.60 C172.97,289.68 172.10,291.60 170.20,292.80 C168.30,294.00 165.02,295.15 161.90,294.80 C158.78,294.45 156.00,293.12 151.50,290.70 C147.00,288.28 141.82,284.33 134.90,280.30 C127.98,276.27 119.15,271.80 110.00,266.50 C100.85,261.20 90.58,254.67 80.00,248.50 C69.42,242.33 52.08,232.67 46.50,229.50  Z" fill="#f4a96b"/>
<path d="M154.60,278.20 C156.68,276.48 162.07,275.50 165.00,276.20 C167.93,276.90 170.90,280.17 172.20,282.40 C173.50,284.63 174.35,288.07 172.80,289.60 C171.25,291.13 166.28,292.12 162.90,291.60 C159.52,291.08 153.88,288.73 152.50,286.50 C151.12,284.27 152.52,279.92 154.60,278.20 Z" fill="#f8c597"/>
<!-- tail -->
<path d="M117.10,514.90 C118.48,516.98 122.43,524.73 125.40,527.40 C128.37,530.07 131.75,530.70 134.90,530.90 C138.05,531.10 142.13,529.58 144.30,528.60 C146.47,527.62 148.68,527.18 147.90,525.00 C147.12,522.82 141.48,518.65 139.60,515.50 C137.72,512.35 136.40,509.65 136.60,506.10 C136.80,502.55 138.52,496.93 140.80,494.20 C143.08,491.47 147.15,489.70 150.30,489.70 C153.45,489.70 157.93,491.47 159.70,494.20 C161.47,496.93 161.68,501.75 160.90,506.10 C160.12,510.45 156.77,516.55 155.00,520.30 C153.23,524.05 150.70,526.23 150.30,528.60 C149.90,530.97 150.82,532.17 152.60,534.50 C154.38,536.83 159.60,541.25 161.00,542.60 " fill="none" stroke="#f19189" stroke-width="5.6" stroke-linecap="butt" stroke-linejoin="round"/>
<!-- pig body -->
<path d="M161,523 C168,498 185,475 208,463 C228,451 256,442 285,441.4 C310,441 340,448 361.5,462.8 L403.5,449.9 C406,449.5 408,451 408.5,454 C410,470 408,495 403,513.2 C404,522 406,531 410,536 L434.5,549.3 C436,546 438,544.5 440,545 C442.5,546 443,549 443,553 L442.5,592 C441,598 438,601 434,604 C425,610 410,616 400,619.5 L373.4,628.7 L363.3,675 L305.7,675 L302,654.3 C290,653 280,653 273.5,655 L269.8,675 L210.3,675 L199.3,626 C185,615 168,595 161,570 C158,555 158,538 161,523 Z" fill="#f5918b"/>
<!-- lower darker band -->
<path d="M166.10,514.00 C167.95,516.12 172.88,522.12 177.20,526.70 C181.52,531.28 187.05,536.82 192.00,541.50 C196.95,546.18 201.95,550.85 206.90,554.80 C211.85,558.75 216.77,562.00 221.70,565.20 C226.63,568.40 230.95,571.28 236.50,574.00 C242.05,576.72 246.08,578.83 255.00,581.50 C263.92,584.17 275.83,587.33 290.00,590.00 C304.17,592.67 321.67,595.78 340.00,597.50 C358.33,599.22 382.83,600.13 400.00,600.30 C417.17,600.47 435.83,598.80 443.00,598.50  L442.5,598 C440,600 438,601 434,604 C425,610 410,616 400,619.5 L373.4,628.7 L363.3,675 L305.7,675 L302,654.3 C290,653 280,653 273.5,655 L269.8,675 L210.3,675 L199.3,626 C185,615 168,595 161,570 C158,555 158,530 166.1,514 Z" fill="#ee8282"/>
<!-- leg dark stripes -->
<polygon points="266.2,655.3 273.5,655 269.8,675 261.6,675" fill="#e0666c"/>
<polygon points="366,629.6 373.4,628.7 363.3,675 357,675" fill="#e0666c"/>
<!-- ear inner -->
<polygon points="384,484 402,467.2 398.6,504.4" fill="#f6b58b"/>
<!-- eye -->
<ellipse cx="393" cy="535.2" rx="6.6" ry="9.4" fill="#6e2d33"/>
<!-- slot -->
<path d="M255,458 Q288,452 321.4,458" fill="none" stroke="#d9545a" stroke-width="6.2"/>
<g transform="translate(190,261.3) scale(1.000)">
<circle r="25.3" fill="#f39128"/>
<circle r="20.2" fill="#f6b52b"/>
<path d="M9.8,-7.8 A11.2,11.2 0 1 0 9.8,9.2" fill="none" stroke="#f0922a" stroke-width="5"/>
<rect x="-15.5" y="-5.6" width="17" height="4" fill="#f0922a"/>
<rect x="-15.5" y="1.8" width="17" height="4" fill="#f0922a"/>
</g>
<g transform="translate(253,295.3) scale(1.000)">
<circle r="25.3" fill="#f39128"/>
<circle r="20.2" fill="#f6b52b"/>
<path d="M9.8,-7.8 A11.2,11.2 0 1 0 9.8,9.2" fill="none" stroke="#f0922a" stroke-width="5"/>
<rect x="-15.5" y="-5.6" width="17" height="4" fill="#f0922a"/>
<rect x="-15.5" y="1.8" width="17" height="4" fill="#f0922a"/>
</g>
<g transform="translate(271.3,360.3) scale(0.968)">
<circle r="25.3" fill="#f39128"/>
<circle r="20.2" fill="#f6b52b"/>
<path d="M9.8,-7.8 A11.2,11.2 0 1 0 9.8,9.2" fill="none" stroke="#f0922a" stroke-width="5"/>
<rect x="-15.5" y="-5.6" width="17" height="4" fill="#f0922a"/>
<rect x="-15.5" y="1.8" width="17" height="4" fill="#f0922a"/>
</g>
<g transform="translate(324.3,385.3) scale(0.968)">
<circle r="25.3" fill="#f39128"/>
<circle r="20.2" fill="#f6b52b"/>
<path d="M9.8,-7.8 A11.2,11.2 0 1 0 9.8,9.2" fill="none" stroke="#f0922a" stroke-width="5"/>
<rect x="-15.5" y="-5.6" width="17" height="4" fill="#f0922a"/>
<rect x="-15.5" y="1.8" width="17" height="4" fill="#f0922a"/>
</g>
<g transform="translate(288.2,429) scale(0.968)">
<circle r="25.3" fill="#f39128"/>
<circle r="20.2" fill="#f6b52b"/>
<path d="M9.8,-7.8 A11.2,11.2 0 1 0 9.8,9.2" fill="none" stroke="#f0922a" stroke-width="5"/>
<rect x="-15.5" y="-5.6" width="17" height="4" fill="#f0922a"/>
<rect x="-15.5" y="1.8" width="17" height="4" fill="#f0922a"/>
</g>
</svg>

<div class="t title" style="top:58.6px">Inversions pressupostades i</div>
<div class="t title" style="top:91px">executades per Espanya</div>

<div class="t lab" style="left:631px;top:110.5px;font-size:12px">*</div>
<div class="t lab" style="right:527px;top:121.5px;font-size:12.5px">2500€</div>
<div class="t lab" style="right:527px;top:204.5px;font-size:12.5px">2000€</div>
<div class="t lab" style="right:527px;top:287.5px;font-size:12.5px">1500€</div>
<div class="t lab" style="right:527px;top:370.5px;font-size:12.5px">1000€</div>
<div class="t lab" style="right:527px;top:453.5px;font-size:12.5px">500€</div>
<div class="t lab" style="right:527px;top:536.5px;font-size:12.5px">0€</div>

<div class="t lab" style="left:821px;top:101.5px;font-size:12.2px">Pressupostat</div>
<div class="t lab" style="left:926px;top:101.5px;font-size:12.2px">Executat</div>

<div class="t lab" style="left:699px;top:550px;font-size:12.5px">Madrid</div>
<div class="t lab" style="left:812px;top:550px;font-size:12.5px">Catalunya</div>
<div class="t lab" style="left:925px;top:550px;font-size:12.2px">País Valencià</div>
<div class="t lab" style="left:1050px;top:550px;font-size:12.2px">Illes Balears</div>

<div class="t lab" style="left:652px;top:578px;font-size:11.2px;color:#767070">*quantitats en milions d'euros</div>

<!-- logos -->
<svg width="1200" height="675" viewBox="0 0 1200 675" style="position:absolute;left:0;top:0">
<defs>
<radialGradient id="lg" cx="50%" cy="45%" r="55%"><stop offset="0" stop-color="#f6f200"/><stop offset="0.8" stop-color="#f0e10e"/><stop offset="1" stop-color="#e9c81c"/></radialGradient>
<clipPath id="cc"><circle cx="968.1" cy="631.1" r="22"/></clipPath>
</defs>
<circle cx="968.1" cy="631.1" r="22.2" fill="url(#lg)"/>
<g clip-path="url(#cc)" fill="#d2231a">
<polygon points="966,636 932.8,647.8 937.6,655.6"/>
<polygon points="966,636 944.6,659.6 959.6,667.4"/>
<polygon points="970,636 974.4,667.4 988.6,659.6"/>
<polygon points="970,636 997.2,654.0 1002.0,647.8"/>
</g>
<rect x="1009.2" y="619.2" width="64.1" height="24.1" fill="#f6d438"/>
<path d="M1086.7,619.2 H1165.4 V644.4 H1092 A5.3,5.3 0 0 1 1086.7,639.1 Z" fill="#1d1d1d"/>
</svg>
<div class="t" style="left:954px;top:620px;font-size:6px;font-weight:bold;color:#222;letter-spacing:-0.1px">assemblea</div>
<div class="t" style="left:955px;top:627px;font-size:3.6px;color:#444;line-height:3.8px">SOBIRANISTA<br>de MALLORCA</div>
<div class="t" style="left:1009.2px;top:619.2px;width:64.1px;text-align:center;font-size:13.5px;line-height:24px;font-weight:bold;color:#fbf3de">Decidim</div>
<div class="t" style="left:1087.7px;top:619.2px;width:78.7px;text-align:center;font-size:12.2px;line-height:25px;font-weight:bold;color:#ececec">assemblea</div>
</body></html>
